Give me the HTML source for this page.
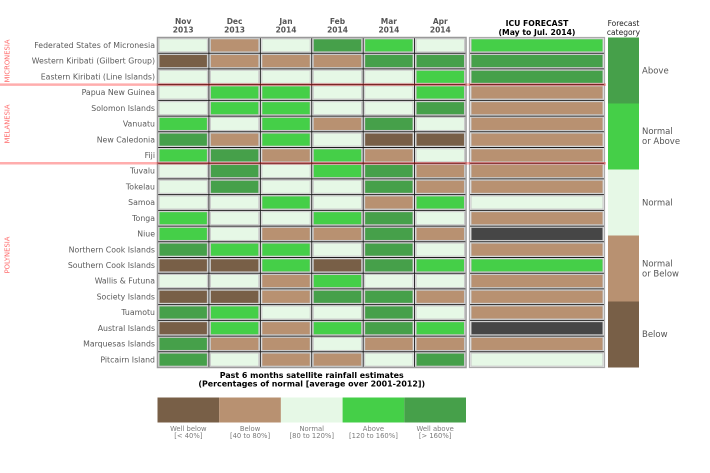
<!DOCTYPE html>
<html><head><meta charset="utf-8"><style>
html,body{margin:0;padding:0;background:#fff;}
svg{display:block;font-family:"DejaVu Sans","Liberation Sans",sans-serif;}
.wb{fill:#785f47}.b{fill:#b89171}.n{fill:#e6f8e6}.a{fill:#45cf48}.wa{fill:#46a04a}.g{fill:#464646}
.c rect{stroke:#c8c8c8;stroke-width:1}
.lbl{font-size:7.8px;fill:#5a5a5a;text-anchor:end}
.mh{font-size:7.5px;font-weight:bold;fill:#555;text-anchor:middle}
.reg{font-size:6.8px;fill:#ff6b6b;text-anchor:middle}
.cat{font-size:8.5px;fill:#555}
.leg{font-size:6.8px;fill:#7a7a7a;text-anchor:middle}
</style></head><body>
<svg width="710" height="473" viewBox="0 0 710 473" xmlns="http://www.w3.org/2000/svg">
<rect width="710" height="473" fill="#fff"/>

<!-- headers -->
<text class="mh" x="183.2" y="24">Nov</text><text class="mh" x="183.2" y="32.5">2013</text>
<text class="mh" x="234.6" y="24">Dec</text><text class="mh" x="234.6" y="32.5">2013</text>
<text class="mh" x="286" y="24">Jan</text><text class="mh" x="286" y="32.5">2014</text>
<text class="mh" x="337.5" y="24">Feb</text><text class="mh" x="337.5" y="32.5">2014</text>
<text class="mh" x="388.9" y="24">Mar</text><text class="mh" x="388.9" y="32.5">2014</text>
<text class="mh" x="440.3" y="24">Apr</text><text class="mh" x="440.3" y="32.5">2014</text>
<text x="537" y="26" font-size="7.7" font-weight="bold" fill="#000" text-anchor="middle">ICU FORECAST</text>
<text x="537" y="35" font-size="7.7" font-weight="bold" fill="#000" text-anchor="middle">(May to Jul. 2014)</text>
<text x="623.5" y="26" font-size="7.5" fill="#222" text-anchor="middle">Forecast</text>
<text x="623.5" y="35" font-size="7.5" fill="#222" text-anchor="middle">category</text>

<!-- row labels -->
<g>
<text class="lbl" x="155" y="48">Federated States of Micronesia</text>
<text class="lbl" x="155" y="63.7">Western Kiribati (Gilbert Group)</text>
<text class="lbl" x="155" y="79.4">Eastern Kiribati (Line Islands)</text>
<text class="lbl" x="155" y="95.1">Papua New Guinea</text>
<text class="lbl" x="155" y="110.8">Solomon Islands</text>
<text class="lbl" x="155" y="126.6">Vanuatu</text>
<text class="lbl" x="155" y="142.3">New Caledonia</text>
<text class="lbl" x="155" y="158">Fiji</text>
<text class="lbl" x="155" y="173.7">Tuvalu</text>
<text class="lbl" x="155" y="189.4">Tokelau</text>
<text class="lbl" x="155" y="205.1">Samoa</text>
<text class="lbl" x="155" y="220.9">Tonga</text>
<text class="lbl" x="155" y="236.6">Niue</text>
<text class="lbl" x="155" y="252.3">Northern Cook Islands</text>
<text class="lbl" x="155" y="268">Southern Cook Islands</text>
<text class="lbl" x="155" y="283.7">Wallis &amp; Futuna</text>
<text class="lbl" x="155" y="299.4">Society Islands</text>
<text class="lbl" x="155" y="315.1">Tuamotu</text>
<text class="lbl" x="155" y="330.9">Austral Islands</text>
<text class="lbl" x="155" y="346.6">Marquesas Islands</text>
<text class="lbl" x="155" y="362.3">Pitcairn Island</text>
</g>

<!-- region labels -->
<text class="reg" transform="translate(9.5,61) rotate(-90)">MICRONESIA</text>
<text class="reg" transform="translate(9.5,124) rotate(-90)">MELANESIA</text>
<text class="reg" transform="translate(9.5,255) rotate(-90)">POLYNESIA</text>

<!-- cells -->
<g class="c">
<g transform="translate(0,38.8)"><rect class="n" x="159" y="0" width="48.4" height="13.1"/><rect class="b" x="210.42" y="0" width="48.4" height="13.1"/><rect class="n" x="261.83" y="0" width="48.4" height="13.1"/><rect class="wa" x="313.25" y="0" width="48.4" height="13.1"/><rect class="a" x="364.67" y="0" width="48.4" height="13.1"/><rect class="n" x="416.08" y="0" width="48.4" height="13.1"/><rect class="a" x="471" y="0" width="132" height="13.1"/></g>
<g transform="translate(0,54.51)"><rect class="wb" x="159" y="0" width="48.4" height="13.1"/><rect class="b" x="210.42" y="0" width="48.4" height="13.1"/><rect class="b" x="261.83" y="0" width="48.4" height="13.1"/><rect class="b" x="313.25" y="0" width="48.4" height="13.1"/><rect class="wa" x="364.67" y="0" width="48.4" height="13.1"/><rect class="wa" x="416.08" y="0" width="48.4" height="13.1"/><rect class="wa" x="471" y="0" width="132" height="13.1"/></g>
<g transform="translate(0,70.23)"><rect class="n" x="159" y="0" width="48.4" height="13.1"/><rect class="n" x="210.42" y="0" width="48.4" height="13.1"/><rect class="n" x="261.83" y="0" width="48.4" height="13.1"/><rect class="n" x="313.25" y="0" width="48.4" height="13.1"/><rect class="n" x="364.67" y="0" width="48.4" height="13.1"/><rect class="a" x="416.08" y="0" width="48.4" height="13.1"/><rect class="wa" x="471" y="0" width="132" height="13.1"/></g>
<g transform="translate(0,85.94)"><rect class="n" x="159" y="0" width="48.4" height="13.1"/><rect class="a" x="210.42" y="0" width="48.4" height="13.1"/><rect class="a" x="261.83" y="0" width="48.4" height="13.1"/><rect class="n" x="313.25" y="0" width="48.4" height="13.1"/><rect class="n" x="364.67" y="0" width="48.4" height="13.1"/><rect class="a" x="416.08" y="0" width="48.4" height="13.1"/><rect class="b" x="471" y="0" width="132" height="13.1"/></g>
<g transform="translate(0,101.66)"><rect class="n" x="159" y="0" width="48.4" height="13.1"/><rect class="a" x="210.42" y="0" width="48.4" height="13.1"/><rect class="a" x="261.83" y="0" width="48.4" height="13.1"/><rect class="n" x="313.25" y="0" width="48.4" height="13.1"/><rect class="n" x="364.67" y="0" width="48.4" height="13.1"/><rect class="wa" x="416.08" y="0" width="48.4" height="13.1"/><rect class="b" x="471" y="0" width="132" height="13.1"/></g>
<g transform="translate(0,117.37)"><rect class="a" x="159" y="0" width="48.4" height="13.1"/><rect class="n" x="210.42" y="0" width="48.4" height="13.1"/><rect class="a" x="261.83" y="0" width="48.4" height="13.1"/><rect class="b" x="313.25" y="0" width="48.4" height="13.1"/><rect class="wa" x="364.67" y="0" width="48.4" height="13.1"/><rect class="n" x="416.08" y="0" width="48.4" height="13.1"/><rect class="b" x="471" y="0" width="132" height="13.1"/></g>
<g transform="translate(0,133.09)"><rect class="wa" x="159" y="0" width="48.4" height="13.1"/><rect class="b" x="210.42" y="0" width="48.4" height="13.1"/><rect class="a" x="261.83" y="0" width="48.4" height="13.1"/><rect class="n" x="313.25" y="0" width="48.4" height="13.1"/><rect class="wb" x="364.67" y="0" width="48.4" height="13.1"/><rect class="wb" x="416.08" y="0" width="48.4" height="13.1"/><rect class="b" x="471" y="0" width="132" height="13.1"/></g>
<g transform="translate(0,148.8)"><rect class="a" x="159" y="0" width="48.4" height="13.1"/><rect class="wa" x="210.42" y="0" width="48.4" height="13.1"/><rect class="b" x="261.83" y="0" width="48.4" height="13.1"/><rect class="a" x="313.25" y="0" width="48.4" height="13.1"/><rect class="b" x="364.67" y="0" width="48.4" height="13.1"/><rect class="n" x="416.08" y="0" width="48.4" height="13.1"/><rect class="b" x="471" y="0" width="132" height="13.1"/></g>
<g transform="translate(0,164.51)"><rect class="n" x="159" y="0" width="48.4" height="13.1"/><rect class="wa" x="210.42" y="0" width="48.4" height="13.1"/><rect class="n" x="261.83" y="0" width="48.4" height="13.1"/><rect class="a" x="313.25" y="0" width="48.4" height="13.1"/><rect class="wa" x="364.67" y="0" width="48.4" height="13.1"/><rect class="b" x="416.08" y="0" width="48.4" height="13.1"/><rect class="b" x="471" y="0" width="132" height="13.1"/></g>
<g transform="translate(0,180.23)"><rect class="n" x="159" y="0" width="48.4" height="13.1"/><rect class="wa" x="210.42" y="0" width="48.4" height="13.1"/><rect class="n" x="261.83" y="0" width="48.4" height="13.1"/><rect class="n" x="313.25" y="0" width="48.4" height="13.1"/><rect class="wa" x="364.67" y="0" width="48.4" height="13.1"/><rect class="b" x="416.08" y="0" width="48.4" height="13.1"/><rect class="b" x="471" y="0" width="132" height="13.1"/></g>
<g transform="translate(0,195.94)"><rect class="n" x="159" y="0" width="48.4" height="13.1"/><rect class="n" x="210.42" y="0" width="48.4" height="13.1"/><rect class="a" x="261.83" y="0" width="48.4" height="13.1"/><rect class="n" x="313.25" y="0" width="48.4" height="13.1"/><rect class="b" x="364.67" y="0" width="48.4" height="13.1"/><rect class="a" x="416.08" y="0" width="48.4" height="13.1"/><rect class="n" x="471" y="0" width="132" height="13.1"/></g>
<g transform="translate(0,211.66)"><rect class="a" x="159" y="0" width="48.4" height="13.1"/><rect class="n" x="210.42" y="0" width="48.4" height="13.1"/><rect class="n" x="261.83" y="0" width="48.4" height="13.1"/><rect class="a" x="313.25" y="0" width="48.4" height="13.1"/><rect class="wa" x="364.67" y="0" width="48.4" height="13.1"/><rect class="n" x="416.08" y="0" width="48.4" height="13.1"/><rect class="b" x="471" y="0" width="132" height="13.1"/></g>
<g transform="translate(0,227.37)"><rect class="a" x="159" y="0" width="48.4" height="13.1"/><rect class="n" x="210.42" y="0" width="48.4" height="13.1"/><rect class="b" x="261.83" y="0" width="48.4" height="13.1"/><rect class="b" x="313.25" y="0" width="48.4" height="13.1"/><rect class="wa" x="364.67" y="0" width="48.4" height="13.1"/><rect class="b" x="416.08" y="0" width="48.4" height="13.1"/><rect class="g" x="471" y="0" width="132" height="13.1"/></g>
<g transform="translate(0,243.09)"><rect class="wa" x="159" y="0" width="48.4" height="13.1"/><rect class="a" x="210.42" y="0" width="48.4" height="13.1"/><rect class="a" x="261.83" y="0" width="48.4" height="13.1"/><rect class="n" x="313.25" y="0" width="48.4" height="13.1"/><rect class="wa" x="364.67" y="0" width="48.4" height="13.1"/><rect class="n" x="416.08" y="0" width="48.4" height="13.1"/><rect class="b" x="471" y="0" width="132" height="13.1"/></g>
<g transform="translate(0,258.8)"><rect class="wb" x="159" y="0" width="48.4" height="13.1"/><rect class="wb" x="210.42" y="0" width="48.4" height="13.1"/><rect class="a" x="261.83" y="0" width="48.4" height="13.1"/><rect class="wb" x="313.25" y="0" width="48.4" height="13.1"/><rect class="wa" x="364.67" y="0" width="48.4" height="13.1"/><rect class="a" x="416.08" y="0" width="48.4" height="13.1"/><rect class="a" x="471" y="0" width="132" height="13.1"/></g>
<g transform="translate(0,274.51)"><rect class="n" x="159" y="0" width="48.4" height="13.1"/><rect class="n" x="210.42" y="0" width="48.4" height="13.1"/><rect class="b" x="261.83" y="0" width="48.4" height="13.1"/><rect class="a" x="313.25" y="0" width="48.4" height="13.1"/><rect class="n" x="364.67" y="0" width="48.4" height="13.1"/><rect class="n" x="416.08" y="0" width="48.4" height="13.1"/><rect class="b" x="471" y="0" width="132" height="13.1"/></g>
<g transform="translate(0,290.23)"><rect class="wb" x="159" y="0" width="48.4" height="13.1"/><rect class="wb" x="210.42" y="0" width="48.4" height="13.1"/><rect class="b" x="261.83" y="0" width="48.4" height="13.1"/><rect class="wa" x="313.25" y="0" width="48.4" height="13.1"/><rect class="wa" x="364.67" y="0" width="48.4" height="13.1"/><rect class="b" x="416.08" y="0" width="48.4" height="13.1"/><rect class="b" x="471" y="0" width="132" height="13.1"/></g>
<g transform="translate(0,305.94)"><rect class="wa" x="159" y="0" width="48.4" height="13.1"/><rect class="a" x="210.42" y="0" width="48.4" height="13.1"/><rect class="n" x="261.83" y="0" width="48.4" height="13.1"/><rect class="n" x="313.25" y="0" width="48.4" height="13.1"/><rect class="wa" x="364.67" y="0" width="48.4" height="13.1"/><rect class="n" x="416.08" y="0" width="48.4" height="13.1"/><rect class="b" x="471" y="0" width="132" height="13.1"/></g>
<g transform="translate(0,321.66)"><rect class="wb" x="159" y="0" width="48.4" height="13.1"/><rect class="a" x="210.42" y="0" width="48.4" height="13.1"/><rect class="b" x="261.83" y="0" width="48.4" height="13.1"/><rect class="a" x="313.25" y="0" width="48.4" height="13.1"/><rect class="wa" x="364.67" y="0" width="48.4" height="13.1"/><rect class="a" x="416.08" y="0" width="48.4" height="13.1"/><rect class="g" x="471" y="0" width="132" height="13.1"/></g>
<g transform="translate(0,337.37)"><rect class="wa" x="159" y="0" width="48.4" height="13.1"/><rect class="b" x="210.42" y="0" width="48.4" height="13.1"/><rect class="b" x="261.83" y="0" width="48.4" height="13.1"/><rect class="n" x="313.25" y="0" width="48.4" height="13.1"/><rect class="b" x="364.67" y="0" width="48.4" height="13.1"/><rect class="b" x="416.08" y="0" width="48.4" height="13.1"/><rect class="b" x="471" y="0" width="132" height="13.1"/></g>
<g transform="translate(0,353.09)"><rect class="wa" x="159" y="0" width="48.4" height="13.1"/><rect class="n" x="210.42" y="0" width="48.4" height="13.1"/><rect class="b" x="261.83" y="0" width="48.4" height="13.1"/><rect class="b" x="313.25" y="0" width="48.4" height="13.1"/><rect class="n" x="364.67" y="0" width="48.4" height="13.1"/><rect class="wa" x="416.08" y="0" width="48.4" height="13.1"/><rect class="n" x="471" y="0" width="132" height="13.1"/></g>
</g>

<!-- grid lines -->
<g stroke="#1e1e1e" stroke-width="1" fill="none">
<path d="M157.5 53.21H466M157.5 68.93H466M157.5 84.64H466M157.5 100.36H466M157.5 116.07H466M157.5 131.79H466M157.5 147.5H466M157.5 163.21H466M157.5 178.93H466M157.5 194.64H466M157.5 210.36H466M157.5 226.07H466M157.5 241.79H466M157.5 257.5H466M157.5 273.21H466M157.5 288.93H466M157.5 304.64H466M157.5 320.36H466M157.5 336.07H466M157.5 351.79H466"/>
<path d="M469.5 53.21H604.5M469.5 68.93H604.5M469.5 84.64H604.5M469.5 100.36H604.5M469.5 116.07H604.5M469.5 131.79H604.5M469.5 147.5H604.5M469.5 163.21H604.5M469.5 178.93H604.5M469.5 194.64H604.5M469.5 210.36H604.5M469.5 226.07H604.5M469.5 241.79H604.5M469.5 257.5H604.5M469.5 273.21H604.5M469.5 288.93H604.5M469.5 304.64H604.5M469.5 320.36H604.5M469.5 336.07H604.5M469.5 351.79H604.5"/>
<path d="M208.92 37.5V367.5M260.33 37.5V367.5M311.75 37.5V367.5M363.17 37.5V367.5M414.58 37.5V367.5"/>
</g>
<rect x="157.5" y="37.5" width="308.5" height="330" fill="none" stroke="#999" stroke-width="1.5"/>
<rect x="469.5" y="37.5" width="135" height="330" fill="none" stroke="#aaa" stroke-width="1.2"/>

<!-- red separators -->
<path d="M0 84.64H606M0 163.21H606" stroke="#ff0000" stroke-opacity="0.32" stroke-width="2.5" fill="none"/>

<!-- forecast category bar -->
<rect x="608" y="37.5" width="31" height="66" fill="#46a04a"/>
<rect x="608" y="103.5" width="31" height="66" fill="#45cf48"/>
<rect x="608" y="169.5" width="31" height="66" fill="#e6f8e6"/>
<rect x="608" y="235.5" width="31" height="66" fill="#b89171"/>
<rect x="608" y="301.5" width="31" height="66" fill="#785f47"/>
<text class="cat" x="642" y="73.5">Above</text>
<text class="cat" x="642" y="134">Normal</text>
<text class="cat" x="642" y="144">or Above</text>
<text class="cat" x="642" y="205.5">Normal</text>
<text class="cat" x="642" y="266.5">Normal</text>
<text class="cat" x="642" y="276.5">or Below</text>
<text class="cat" x="642" y="337">Below</text>

<!-- bottom legend -->
<text x="311.75" y="378" font-size="7.9" font-weight="bold" fill="#000" text-anchor="middle">Past 6 months satellite rainfall estimates</text>
<text x="311.75" y="386.5" font-size="7.9" font-weight="bold" fill="#000" text-anchor="middle">(Percentages of normal [average over 2001-2012])</text>
<rect x="157.5" y="397.5" width="61.7" height="25" fill="#785f47"/>
<rect x="219.2" y="397.5" width="61.7" height="25" fill="#b89171"/>
<rect x="280.9" y="397.5" width="61.7" height="25" fill="#e6f8e6"/>
<rect x="342.6" y="397.5" width="61.7" height="25" fill="#45cf48"/>
<rect x="404.3" y="397.5" width="61.7" height="25" fill="#46a04a"/>
<text class="leg" x="188.35" y="431">Well below</text><text class="leg" x="188.35" y="438">[&lt; 40%]</text>
<text class="leg" x="250.05" y="431">Below</text><text class="leg" x="250.05" y="438">[40 to 80%]</text>
<text class="leg" x="311.75" y="431">Normal</text><text class="leg" x="311.75" y="438">[80 to 120%]</text>
<text class="leg" x="373.45" y="431">Above</text><text class="leg" x="373.45" y="438">[120 to 160%]</text>
<text class="leg" x="435.15" y="431">Well above</text><text class="leg" x="435.15" y="438">[&gt; 160%]</text>
</svg>
</body></html>
